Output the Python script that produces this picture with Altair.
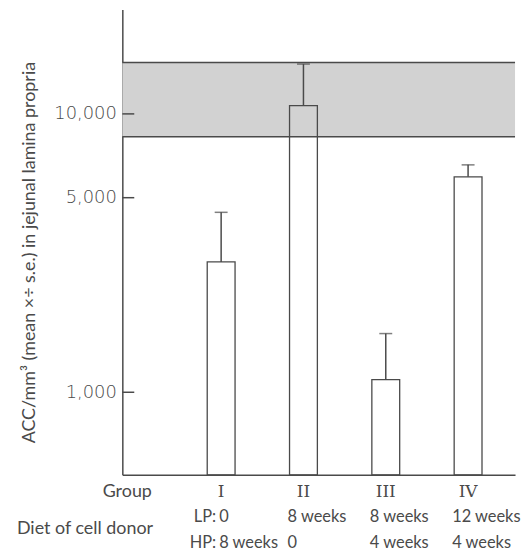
import altair as alt
import pandas as pd

# ---- data ----
groups = ["I", "II", "III", "IV"]
positions = [1, 2, 3, 4]
means = [2940, 10700, 1110, 5940]
upper = [4430, 15100, 1625, 6560]
lp_diet = ["0", "8 weeks", "8 weeks", "12 weeks"]
hp_diet = ["8 weeks", "0", "4 weeks", "4 weeks"]
band_low = [8280]
band_high = [15300]
tick_values = [1000, 5000, 10000]
y_domain = [505, 23700]
x_domain = [-0.14, 4.51]

W, H = 395, 468
INK = "#4a4a4a"
FONT = "Lato"
FS = 18

df = pd.DataFrame({"group": groups, "pos": positions, "mean": means,
                   "upper": upper, "lp": lp_diet, "hp": hp_diet,
                   "base": [y_domain[0]] * 4})
band_df = pd.DataFrame({"lo": band_low, "hi": band_high})
band_lines = pd.DataFrame({"v": band_low + band_high})
ticks_df = pd.DataFrame({"v": tick_values})

yscale = alt.Scale(type="log", domain=y_domain, nice=False)
xscale = alt.Scale(domain=x_domain, nice=False, zero=False)

yaxis = alt.Axis(values=tick_values, format=",", tickSize=0, labelPadding=6,
                 labelFont="DejaVu Sans", labelFontWeight=200, labelFontSize=18,
                 labelColor=INK,
                 domainColor=INK, domainWidth=1.5, grid=False,
                 title="ACC/mm³ (mean ×÷ s.e.) in jejunal lamina propria",
                 titleFont=FONT, titleFontSize=FS, titleFontWeight="normal",
                 titleColor=INK, titleX=-93, titleY=244, titleAlign="center",
                 titleBaseline="middle", titleAngle=270)
xaxis = alt.Axis(labels=False, ticks=False, domain=True, domainColor=INK,
                 domainWidth=1.5, grid=False, title=None)


def Y(field):
    return alt.Y(field, type="quantitative", scale=yscale, axis=yaxis)


def X(field):
    return alt.X(field, type="quantitative", scale=xscale, axis=xaxis)


band = alt.Chart(band_df).mark_rect(fill="#d2d2d2").encode(
    x=alt.value(0), x2=alt.value(W), y=Y("lo"), y2="hi")
band_edges = alt.Chart(band_lines).mark_rule(color=INK, strokeWidth=1.5).encode(
    y=Y("v"))

bars = alt.Chart(df).mark_bar(size=28, fill="white", fillOpacity=0,
                              stroke=INK, strokeWidth=1.3).encode(
    x=X("pos"), y=Y("mean"), y2="base")
err = alt.Chart(df).mark_rule(color=INK, strokeWidth=1.5).encode(
    x=X("pos"), y=Y("mean"), y2="upper")
caps = alt.Chart(df).mark_tick(color=INK, orient="horizontal", size=13,
                               thickness=1.5).encode(x=X("pos"), y=Y("upper"))

yticks = alt.Chart(ticks_df).mark_rule(color=INK, strokeWidth=1.5).encode(
    y=Y("v"), x=alt.value(0), x2=alt.value(12))

txt = dict(font=FONT, fontSize=FS, color=INK, baseline="middle")
rowtxt = dict(font=FONT, fontSize=16.5, color=INK, baseline="middle")
ROW1, ROW2, ROW3, DIET = 485, 510, 537, 522

roman = alt.Chart(df).mark_text(font="DejaVu Serif", fontSize=17,
                                color=INK, baseline="middle").encode(
    x=X("pos"), y=alt.value(ROW1), text="group")
group_lbl = alt.Chart(pd.DataFrame({"t": ["Group"]})).mark_text(
    align="center", **txt).encode(x=alt.value(5), y=alt.value(ROW1), text="t")
diet_lbl = alt.Chart(pd.DataFrame({"t": ["Diet of cell donor"]})).mark_text(
    align="left", **txt).encode(x=alt.value(-106), y=alt.value(DIET), text="t")

first = alt.Chart(df).transform_filter("datum.pos == 1")
rest = alt.Chart(df).transform_filter("datum.pos > 1")

lp_prefix = first.transform_calculate(t="'LP:'").mark_text(
    align="right", dx=-5, **rowtxt).encode(x=X("pos"), y=alt.value(ROW2), text="t:N")
hp_prefix = first.transform_calculate(t="'HP:'").mark_text(
    align="right", dx=-5, **rowtxt).encode(x=X("pos"), y=alt.value(ROW3), text="t:N")
lp_first = first.mark_text(align="left", dx=-2, **rowtxt).encode(
    x=X("pos"), y=alt.value(ROW2), text="lp")
hp_first = first.mark_text(align="left", dx=-2, **rowtxt).encode(
    x=X("pos"), y=alt.value(ROW3), text="hp")
lp_rest = rest.mark_text(align="left", dx=-16, **rowtxt).encode(
    x=X("pos"), y=alt.value(ROW2), text="lp")
hp_rest = rest.mark_text(align="left", dx=-16, **rowtxt).encode(
    x=X("pos"), y=alt.value(ROW3), text="hp")

chart = alt.layer(
    band, band_edges, bars, err, caps, yticks,
    roman, group_lbl, diet_lbl, lp_prefix, hp_prefix,
    lp_first, hp_first, lp_rest, hp_rest
).properties(
    width=W, height=H,
    autosize=alt.AutoSizeParams(type="none"),
    padding={"left": 115, "top": 0, "right": 6, "bottom": 75},
    background="white",
).configure_view(stroke=None)

chart.save("out.html", embed_options={"renderer": "svg", "actions": False})
